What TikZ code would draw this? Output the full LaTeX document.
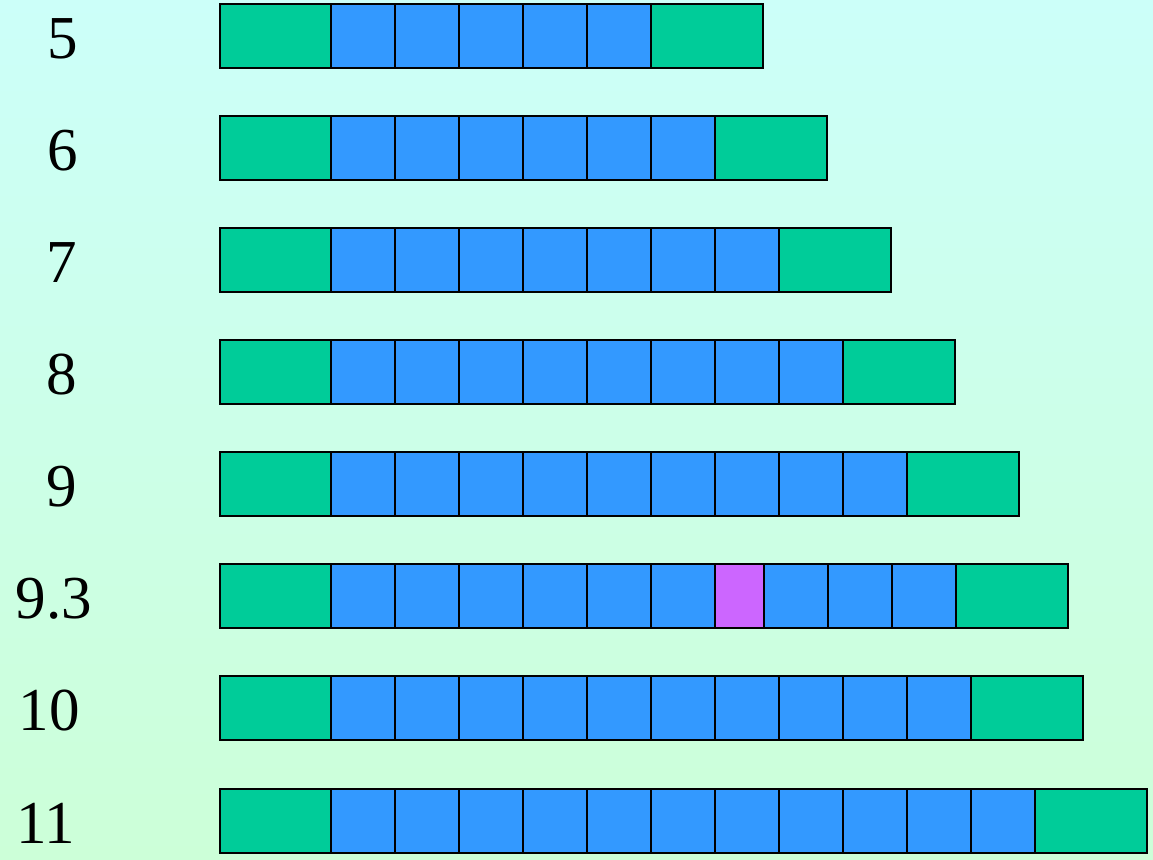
\documentclass[tikz,border=0pt]{standalone}
\usepackage{fontspec}
\setmainfont{Liberation Serif}
\usetikzlibrary{positioning}
\definecolor{bgtop}{RGB}{204,255,249}
\definecolor{bgbottom}{RGB}{204,255,216}
\definecolor{flankgreen}{RGB}{0,204,153}
\definecolor{repeatblue}{RGB}{51,153,255}
\definecolor{partpurple}{RGB}{204,102,255}
\tikzset{
  cell/.style={draw=black, line width=2pt, inner sep=0pt, outer sep=0pt,
    minimum height=64pt, anchor=north west},
  flank/.style={cell, fill=flankgreen, minimum width=111.5pt},
  rep/.style={cell, fill=repeatblue, minimum width=64pt},
  partial/.style={cell, fill=partpurple, minimum width=49pt},
  allele/.style={font=\fontsize{61}{66}\selectfont, inner sep=0pt}
}

\begin{document}
\begin{tikzpicture}[x=1pt, y=-1pt]
        % Background
        \shade[top color=bgtop, bottom color=bgbottom] (0,0) rectangle (1153,859);
        % Row 5
        \node[allele] (n5) at (63,39) {5};
        \node[flank] (r5left) at (220,4) {};
        \foreach \i in {0,...,4} \node[rep] (r5c\i) at (331+64*\i,4) {};
        \node[flank] (r5right) at (651,4) {};
        % Row 6
        \node[allele] (n6) at (63,151) {6};
        \node[flank] (r6left) at (220,116) {};
        \foreach \i in {0,...,5} \node[rep] (r6c\i) at (331+64*\i,116) {};
        \node[flank] (r6right) at (715,116) {};
        % Row 7
        \node[allele] (n7) at (62,263) {7};
        \node[flank] (r7left) at (220,228) {};
        \foreach \i in {0,...,6} \node[rep] (r7c\i) at (331+64*\i,228) {};
        \node[flank] (r7right) at (779,228) {};
        % Row 8
        \node[allele] (n8) at (62,375) {8};
        \node[flank] (r8left) at (220,340) {};
        \foreach \i in {0,...,7} \node[rep] (r8c\i) at (331+64*\i,340) {};
        \node[flank] (r8right) at (843,340) {};
        % Row 9
        \node[allele] (n9) at (62,487) {9};
        \node[flank] (r9left) at (220,452) {};
        \foreach \i in {0,...,8} \node[rep] (r9c\i) at (331+64*\i,452) {};
        \node[flank] (r9right) at (907,452) {};
        % Row 9.3
        \node[allele] (n93) at (54,599) {9.3};
        \node[flank] (r93left) at (220,564) {};
        \foreach \i in {0,...,5} \node[rep] (r93c\i) at (331+64*\i,564) {};
        \node[partial] (r93part) at (715,564) {};
        \foreach \i in {0,...,2} \node[rep] (r93d\i) at (764+64*\i,564) {};
        \node[flank] (r93right) at (956,564) {};
        % Row 10
        \node[allele] (n10) at (49,711) {10};
        \node[flank] (r10left) at (220,676) {};
        \foreach \i in {0,...,9} \node[rep] (r10c\i) at (331+64*\i,676) {};
        \node[flank] (r10right) at (971,676) {};
        % Row 11
        \node[allele] (n11) at (46,823) {11};
        \node[flank] (r11left) at (220,789) {};
        \foreach \i in {0,...,10} \node[rep] (r11c\i) at (331+64*\i,789) {};
        \node[flank] (r11right) at (1035,789) {};
      \end{tikzpicture}
\end{document}
